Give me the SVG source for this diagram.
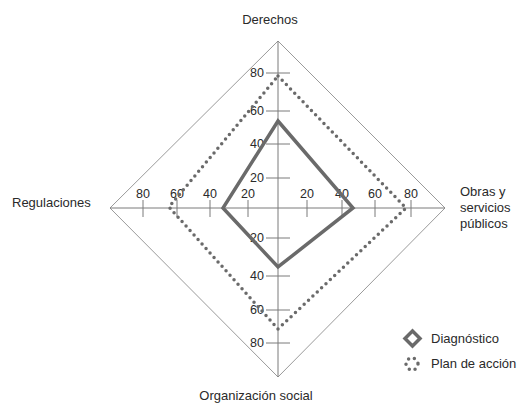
<svg xmlns="http://www.w3.org/2000/svg" width="518" height="403" viewBox="0 0 518 403">
<style>
text{font-family:"Liberation Sans",Arial,sans-serif;font-size:13px;fill:#2a2a2a}
.tl{font-size:12.5px}
.frame{fill:none;stroke:#9a9a9a;stroke-width:1}
.axis{stroke:#7a7a7a;stroke-width:1;fill:none}
.diag{fill:none;stroke:#6a6a6a;stroke-width:3.5;stroke-linejoin:miter}
.plan{fill:none;stroke:#6a6a6a;stroke-width:3.5;stroke-linecap:round;stroke-dasharray:0 6}
</style>
<rect width="518" height="403" fill="#fff"/>
<g id="frame">
<polygon class="frame" points="278,41 445,208 278,377 110,208"/>
</g>
<g id="axes">
<line class="axis" x1="278" y1="41" x2="278" y2="377"/>
<line class="axis" x1="110" y1="208" x2="445" y2="208"/>
<g class="axis">
<line x1="266" y1="73" x2="290" y2="73"/>
<line x1="266" y1="111" x2="290" y2="111"/>
<line x1="266" y1="144" x2="290" y2="144"/>
<line x1="266" y1="178" x2="290" y2="178"/>
<line x1="266" y1="238" x2="290" y2="238"/>
<line x1="266" y1="276" x2="290" y2="276"/>
<line x1="266" y1="310" x2="290" y2="310"/>
<line x1="266" y1="343" x2="290" y2="343"/>
<line x1="143" y1="200" x2="143" y2="217"/>
<line x1="177" y1="200" x2="177" y2="217"/>
<line x1="210" y1="200" x2="210" y2="217"/>
<line x1="248" y1="200" x2="248" y2="217"/>
<line x1="307" y1="200" x2="307" y2="217"/>
<line x1="342" y1="200" x2="342" y2="217"/>
<line x1="375" y1="200" x2="375" y2="217"/>
<line x1="411" y1="200" x2="411" y2="217"/>
</g>
</g>
<g id="tick-labels" class="tl">
<text x="264" y="77" text-anchor="end" class="tl">80</text>
<text x="264" y="115" text-anchor="end" class="tl">60</text>
<text x="264" y="148" text-anchor="end" class="tl">40</text>
<text x="264" y="182" text-anchor="end" class="tl">20</text>
<text x="264" y="242" text-anchor="end" class="tl">20</text>
<text x="264" y="280" text-anchor="end" class="tl">40</text>
<text x="264" y="314" text-anchor="end" class="tl">60</text>
<text x="264" y="347" text-anchor="end" class="tl">80</text>
<text x="143" y="198" text-anchor="middle" class="tl">80</text>
<text x="177" y="198" text-anchor="middle" class="tl">60</text>
<text x="210" y="198" text-anchor="middle" class="tl">40</text>
<text x="248" y="198" text-anchor="middle" class="tl">20</text>
<text x="307" y="198" text-anchor="middle" class="tl">20</text>
<text x="342" y="198" text-anchor="middle" class="tl">40</text>
<text x="375" y="198" text-anchor="middle" class="tl">60</text>
<text x="411" y="198" text-anchor="middle" class="tl">80</text>
</g>
<g id="series">
<polygon id="plan" class="plan" points="278,76 406,208 278,329 169,207"/>
<polygon id="diagnostico" class="diag" points="278,121 353,208 278,267 223,208"/>
</g>
<g id="label-derechos"><text x="270" y="24" text-anchor="middle">Derechos</text></g>
<g id="label-regulaciones"><text x="12" y="207">Regulaciones</text></g>
<g id="label-obras"><text x="460" y="196">Obras y</text><text x="460" y="212">servicios</text><text x="460" y="228">públicos</text></g>
<g id="label-organizacion"><text x="256" y="400" text-anchor="middle">Organización social</text></g>
<g id="legend">
<polygon class="diag" stroke-width="3" points="412.5,331 420,338.5 412.5,346 405,338.5"/>
<text x="431" y="343">Diagnóstico</text>
<circle class="plan" stroke-width="3" stroke-dasharray="0 5.4" cx="412" cy="364" r="6"/>
<text x="431" y="368">Plan de acción</text>
</g>
</svg>
